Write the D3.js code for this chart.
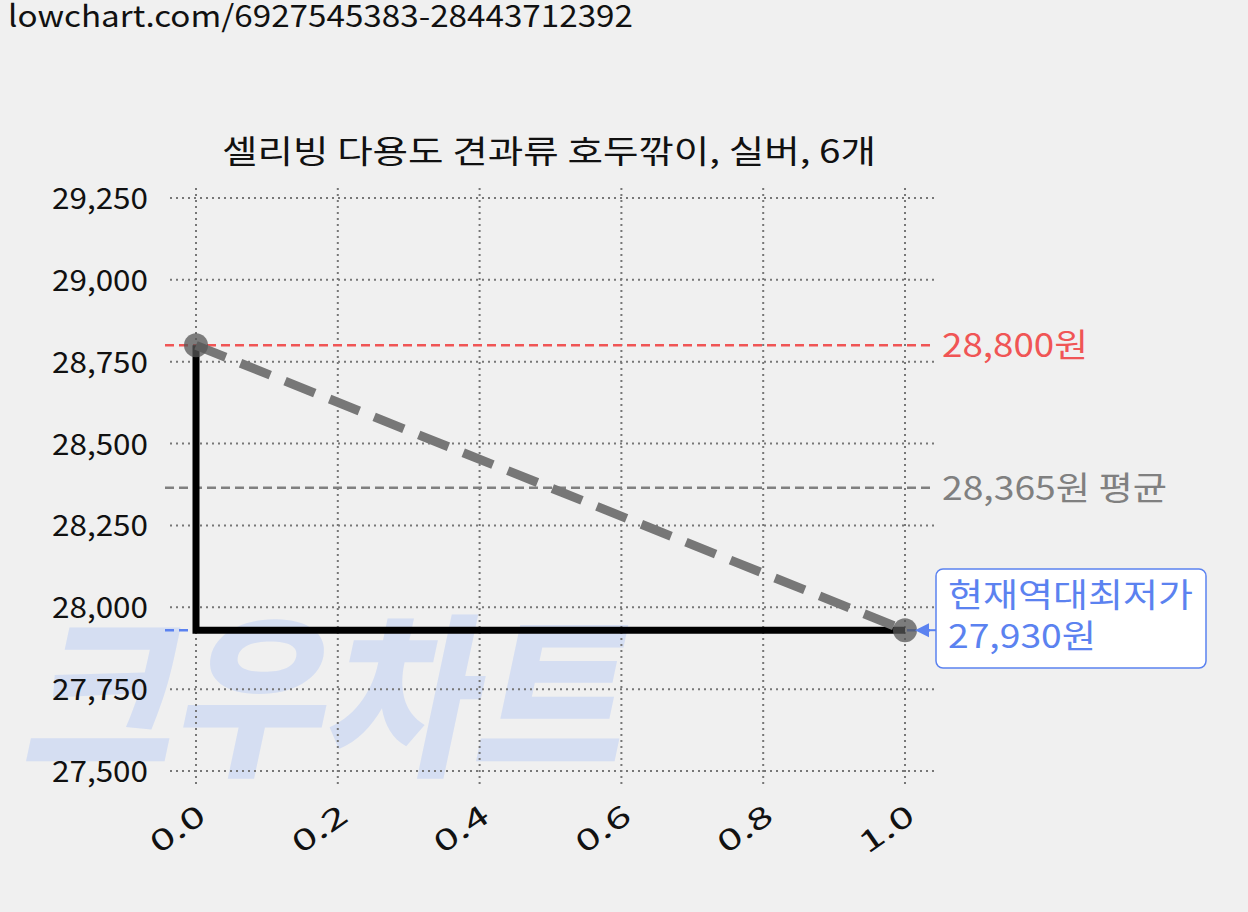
<!DOCTYPE html>
<html><head><meta charset="utf-8">
<script src="https://cdn.jsdelivr.net/npm/d3@7"></script>
<style>body{margin:0;background:#f0f0f0;font-family:"Noto Sans CJK KR","Noto Sans",sans-serif}</style>
</head><body><div id="container"></div>
<script>
const W = 1248, H = 912;
// data
const xs = [0, 1];
const prices = [28800, 27930];
const yTicks = [27500, 27750, 28000, 28250, 28500, 28750, 29000, 29250];
const xTicks = [0, 0.2, 0.4, 0.6, 0.8, 1.0];
const maxPrice = 28800, avgPrice = 28365, minPrice = 27930;
const title = "셀리빙 다용도 견과류 호두깎이, 실버, 6개";
const url = "lowchart.com/6927545383-28443712392";

const svg = d3.select("#container").append("svg").attr("width", W).attr("height", H)
  .style("background", "#f0f0f0");

const x = d3.scaleLinear().domain([0, 1]).range([196, 905]);
const y = d3.scaleLinear().domain([27500, 29250]).range([771, 198]);

// watermark
svg.append("text").attr("transform", "translate(20,762) skewX(-12)").text("크우차트")
  .attr("font-size", 175).attr("font-weight", 900).attr("fill", "#d5def2")
  .attr("textLength", 600).attr("lengthAdjust", "spacingAndGlyphs");

// grid
const g = svg.append("g");
g.selectAll(".gy").data(yTicks).enter().append("line")
  .attr("x1", 170).attr("x2", 935).attr("y1", d => y(d)).attr("y2", d => y(d))
  .attr("stroke", "#777").attr("stroke-width", 2).attr("stroke-dasharray", "2,4");
g.selectAll(".gx").data(xTicks).enter().append("line")
  .attr("y1", 188).attr("y2", 785).attr("x1", d => x(d)).attr("x2", d => x(d))
  .attr("stroke", "#777").attr("stroke-width", 2).attr("stroke-dasharray", "2,4");

// axes labels
svg.selectAll(".yl").data(yTicks).enter().append("text")
  .attr("x", 148).attr("y", d => y(d) + 11).attr("text-anchor", "end")
  .attr("font-size", 29).attr("fill", "#111")
  .attr("textLength", 96).attr("lengthAdjust", "spacingAndGlyphs")
  .text(d => d3.format(",")(d));
svg.selectAll(".xl").data(xTicks).enter().append("text")
  .attr("transform", d => `translate(${x(d) + 12},${820}) rotate(-35)`)
  .attr("text-anchor", "end").attr("font-size", 29).attr("fill", "#111")
  .attr("textLength", 60).attr("lengthAdjust", "spacingAndGlyphs")
  .text(d => d.toFixed(1));

// reference lines
function hline(v, color) {
  svg.append("line").attr("x1", 165).attr("x2", 935).attr("y1", y(v)).attr("y2", y(v))
    .attr("stroke", color).attr("stroke-width", 2.5).attr("stroke-dasharray", "9,5");
}
hline(maxPrice, "#f05555");
hline(avgPrice, "#808080");
hline(minPrice, "#5b82f0");
svg.append("text").attr("x", 942).attr("y", y(maxPrice) + 12).attr("font-size", 33)
  .attr("fill", "#f05555").attr("textLength", 146).attr("lengthAdjust", "spacingAndGlyphs")
  .text(d3.format(",")(maxPrice) + "원");
svg.append("text").attr("x", 942).attr("y", y(avgPrice) + 12).attr("font-size", 33)
  .attr("fill", "#808080").attr("textLength", 225).attr("lengthAdjust", "spacingAndGlyphs")
  .text(d3.format(",")(avgPrice) + "원 평균");

// step line
svg.append("path").datum(xs.map((d, i) => [d, prices[i]]))
  .attr("d", d3.line().x(d => x(d[0])).y(d => y(d[1])).curve(d3.curveStepBefore))
  .attr("fill", "none").attr("stroke", "#000").attr("stroke-width", 7);
// trend dashed
svg.append("path").datum(xs.map((d, i) => [d, prices[i]]))
  .attr("d", d3.line().x(d => x(d[0])).y(d => y(d[1])))
  .attr("fill", "none").attr("stroke", "#777").attr("stroke-width", 9)
  .attr("stroke-dasharray", "32,16");
svg.selectAll(".pt").data(xs).enter().append("circle")
  .attr("cx", d => x(d)).attr("cy", (d, i) => y(prices[i])).attr("r", 12)
  .attr("fill", "#555").attr("opacity", 0.75);

// min annotation
svg.append("rect").attr("x", 936).attr("y", 569).attr("width", 270).attr("height", 99)
  .attr("rx", 7).attr("fill", "#fff").attr("stroke", "#5b82f0").attr("stroke-width", 1.5);
svg.append("text").attr("x", 948).attr("y", 607).attr("font-size", 33).attr("fill", "#5b82f0")
  .attr("textLength", 245).attr("lengthAdjust", "spacingAndGlyphs").text("현재역대최저가");
svg.append("text").attr("x", 948).attr("y", 648).attr("font-size", 33).attr("fill", "#5b82f0")
  .attr("textLength", 148).attr("lengthAdjust", "spacingAndGlyphs").text(d3.format(",")(minPrice) + "원");
svg.append("line").attr("x1", 936).attr("x2", 920).attr("y1", y(minPrice)).attr("y2", y(minPrice))
  .attr("stroke", "#5b82f0").attr("stroke-width", 2);
svg.append("path").attr("d", `M${x(1) + 10},${y(minPrice)} l14,-7 l0,14 z`).attr("fill", "#5b82f0");

// title + url
svg.append("text").attr("x", 549).attr("y", 163).attr("text-anchor", "middle")
  .attr("font-size", 32).attr("fill", "#111")
  .attr("textLength", 654).attr("lengthAdjust", "spacingAndGlyphs").text(title);
svg.append("text").attr("x", 8).attr("y", 27).attr("font-size", 30).attr("fill", "#111")
  .attr("textLength", 625).attr("lengthAdjust", "spacingAndGlyphs").text(url);
</script></body></html>
